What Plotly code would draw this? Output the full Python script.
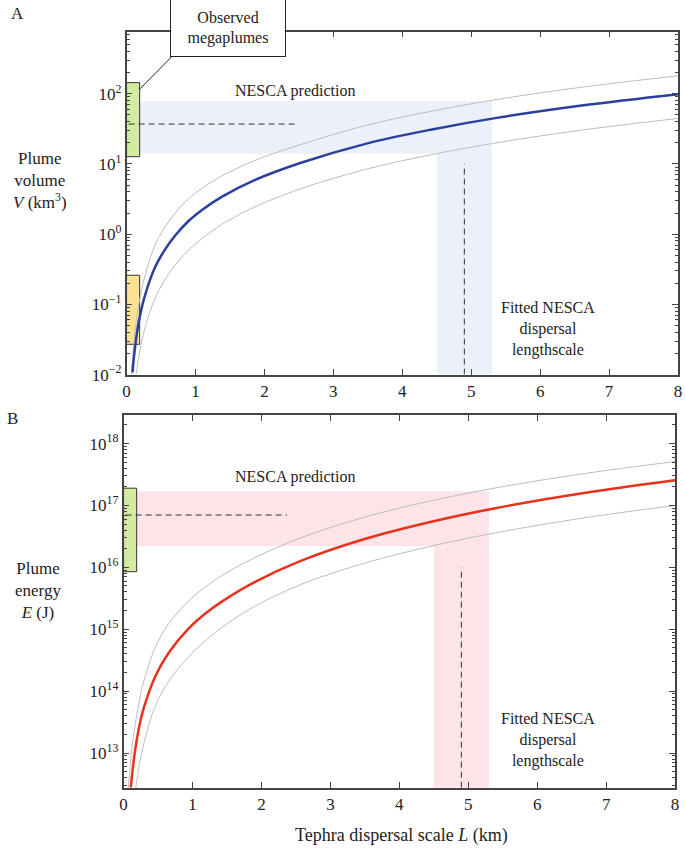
import plotly.graph_objects as go

# Panel A: plume volume (km^3) vs tephra dispersal scale L (km)
vol_L = [0.086, 0.125, 0.18, 0.27, 0.42, 0.55, 0.70, 0.90, 1.10, 1.38, 1.85, 2.52, 3.48, 4.43, 5.39, 6.63, 8.0]
vol_mid = [0.0107, 0.0254, 0.0586, 0.137, 0.348, 0.588, 0.942, 1.54, 2.23, 3.40, 5.83, 10.3, 19.5,
           31.0, 45.7, 68.5, 98.6]
vol_hi_L = [0.07, 0.12, 0.18, 0.27, 0.42, 0.55, 0.70, 0.90, 1.10, 1.38, 1.85, 2.52, 3.48, 4.43, 5.39, 6.63, 8.0]
vol_hi = [0.0102, 0.0383, 0.103, 0.262, 0.726, 1.23, 1.97, 3.21, 4.54, 6.71, 11.1, 18.8, 35.5,
          56.6, 83.4, 125, 180]
vol_lo_L = [0.14, 0.18, 0.27, 0.42, 0.55, 0.70, 0.90, 1.10, 1.38, 1.85, 2.52, 3.48, 4.43, 5.39, 6.63, 8.0]
vol_lo = [0.0102, 0.0187, 0.0475, 0.126, 0.218, 0.358, 0.592, 0.875, 1.37, 2.42, 4.41, 8.43, 13.6,
          20.2, 30.6, 44.5]

# Panel B: plume energy (J)
en_L = [0.105, 0.153, 0.225, 0.30, 0.463, 0.65, 0.942, 1.20, 1.42, 1.90, 2.57, 3.52, 4.48, 5.43, 6.68, 8.0]
en_mid = [2.75e12, 8.55e12, 2.61e13, 5.68e13, 1.76e14, 4.09e14, 1.02e15, 1.84e15, 2.77e15, 5.77e15,
          1.27e16, 2.92e16, 5.51e16, 9.2e16, 1.59e17, 2.55e17]
en_hi_L = [0.07, 0.12, 0.225, 0.30, 0.463, 0.65, 0.942, 1.20, 1.42, 1.90, 2.57, 3.52, 4.48, 5.43, 6.68, 8.0]
en_hi = [2.75e12, 1.18e13, 6.65e13, 1.54e14, 5.19e14, 1.21e15, 2.84e15, 4.95e15, 7.3e15, 1.43e16,
         2.99e16, 6.59e16, 1.2e17, 1.95e17, 3.27e17, 5.12e17]
en_lo_L = [0.177, 0.225, 0.30, 0.463, 0.65, 0.942, 1.20, 1.42, 1.90, 2.57, 3.52, 4.48, 5.43, 6.68, 8.0]
en_lo = [2.75e12, 6.07e12, 1.52e13, 5.87e13, 1.42e14, 3.58e14, 6.71e14, 1.06e15, 2.33e15, 5.26e15,
         1.19e16, 2.22e16, 3.67e16, 6.3e16, 1.0e17]

# observations / NESCA fit
L_fit, L_fit_lo, L_fit_hi = 4.9, 4.5, 5.3
obs_box_L = 0.19
vol_obs_mega = (12.7, 144)
vol_obs_small = (0.027, 0.26)
vol_pred = (14, 78)
vol_pred_mid = 37
en_obs_mega = (8.5e15, 1.9e17)
en_pred = (2.2e16, 1.7e17)
en_pred_mid = 7e16

x_ticks = [0, 1, 2, 3, 4, 5, 6, 7, 8]
vol_ticks = [-2, -1, 0, 1, 2]
en_ticks = [13, 14, 15, 16, 17, 18]

FONT = 'Liberation Serif'
INK = '#222222'
AX = '#444444'
BLUE = '#2b3f9e'
RED = '#e8331c'
GREY = '#bcbcbc'
BAND_B = '#ebf0fa'
BAND_R = '#fde4e8'
GREEN = '#d3eba0'
ORANGE = '#ffe193'
DASH = '6px,4px'

fig = go.Figure()

for xs, ys, col, w in [(vol_hi_L, vol_hi, GREY, 1), (vol_lo_L, vol_lo, GREY, 1), (vol_L, vol_mid, BLUE, 2.5)]:
    fig.add_scatter(x=xs, y=ys, mode='lines', line=dict(color=col, width=w, shape='spline'),
                    xaxis='x', yaxis='y', showlegend=False, hoverinfo='skip')
for xs, ys, col, w in [(en_hi_L, en_hi, GREY, 1), (en_lo_L, en_lo, GREY, 1), (en_L, en_mid, RED, 2.5)]:
    fig.add_scatter(x=xs, y=ys, mode='lines', line=dict(color=col, width=w, shape='spline'),
                    xaxis='x2', yaxis='y2', showlegend=False, hoverinfo='skip')

shapes = []


def panel_shapes(xr, yr, ymin, pred, pred_mid, obs, band, dash_x_top, dash_y_end):
    # L-shaped prediction band
    shapes.append(dict(type='rect', xref=xr, yref=yr, x0=obs_box_L, x1=L_fit_hi,
                       y0=pred[0], y1=pred[1], fillcolor=band, line_width=0, layer='below'))
    shapes.append(dict(type='rect', xref=xr, yref=yr, x0=L_fit_lo, x1=L_fit_hi,
                       y0=ymin, y1=pred[0], fillcolor=band, line_width=0, layer='below'))
    # observed megaplumes
    shapes.append(dict(type='rect', xref=xr, yref=yr, x0=0, x1=obs_box_L,
                       y0=obs[0], y1=obs[1], fillcolor=GREEN,
                       line=dict(color='#333333', width=1), layer='below'))
    # dashed lines
    shapes.append(dict(type='line', xref=xr, yref=yr, x0=0.03, x1=dash_y_end,
                       y0=pred_mid, y1=pred_mid, line=dict(color='#333333', width=1, dash=DASH)))
    shapes.append(dict(type='line', xref=xr, yref=yr, x0=L_fit, x1=L_fit,
                       y0=ymin, y1=dash_x_top, line=dict(color='#333333', width=1, dash=DASH)))


panel_shapes('x', 'y', 0.01, vol_pred, vol_pred_mid, vol_obs_mega, BAND_B, 10, 2.5)
panel_shapes('x2', 'y2', 10 ** 12.44, en_pred, en_pred_mid, en_obs_mega, BAND_R, 1e16, 2.37)
shapes.append(dict(type='rect', xref='x', yref='y', x0=0, x1=obs_box_L,
                   y0=vol_obs_small[0], y1=vol_obs_small[1], fillcolor=ORANGE,
                   line=dict(color='#333333', width=1), layer='below'))
# leader line from the "Observed megaplumes" box to the green bar
shapes.append(dict(type='line', xref='paper', yref='paper', x0=137.5 / 685, y0=1 - 90 / 855,
                   x1=170 / 685, y1=1 - 57 / 855, line=dict(color='#222222', width=1)))

axis_common = dict(showline=True, linecolor=AX, linewidth=1.6, mirror='ticks', ticks='inside',
                   tickcolor=AX, tickwidth=1.3, ticklen=6, showgrid=False, zeroline=False,
                   tickfont=dict(family=FONT, size=17, color=INK))


def sup(p):
    return '10<sup>' + (str(p) if p >= 0 else '\u2212' + str(-p)) + '</sup>'


def minor_ticks(lo, hi):
    vals = [k * 10.0 ** p for p in range(lo, hi + 1) for k in range(2, 10)]
    return dict(tickmode='array', tickvals=vals, ticks='inside', ticklen=3.5,
                tickcolor=AX, tickwidth=1, showgrid=False)


fig.update_layout(
    width=685, height=855, autosize=False,
    margin=dict(l=0, r=0, t=0, b=0),
    paper_bgcolor='white', plot_bgcolor='white',
    font=dict(family=FONT, size=16, color=INK),
    showlegend=False,
    shapes=shapes,
    xaxis=dict(domain=[124 / 685, 682 / 685], range=[0, 8], anchor='y',
               tickvals=x_ticks, **axis_common),
    yaxis=dict(domain=[1 - 379 / 855, 1 - 32 / 855], type='log', range=[-2, 2.885], anchor='x',
               tickvals=[10.0 ** p for p in vol_ticks], ticktext=[sup(p) for p in vol_ticks],
               minor=minor_ticks(-2, 2), **axis_common),
    xaxis2=dict(domain=[121 / 685, 679 / 685], range=[0, 8], anchor='y2',
                tickvals=x_ticks, **axis_common),
    yaxis2=dict(domain=[1 - 797 / 855, 1 - 420 / 855], type='log', range=[12.44, 18.46], anchor='x2',
                tickvals=[10.0 ** p for p in en_ticks], ticktext=[sup(p) for p in en_ticks],
                minor=minor_ticks(12, 18), **axis_common),
)


def note(x, y, text, xref='paper', yref='paper', size=16, **kw):
    return dict(xref=xref, yref=yref, x=x, y=y, text=text, showarrow=False,
                xanchor='center', yanchor='middle', font=dict(size=size), **kw)


# annotation positions on log axes are given in log10 units
ann = [
    note(14 / 685, 1 - 14 / 855, 'A', size=17),
    note(9 / 685, 1 - 423 / 855, 'B', size=17),
    note(36 / 685, 1 - 183 / 855, 'Plume<br>volume<br><i>V</i> (km<sup>3</sup>)', size=17),
    note(34 / 685, 1 - 597 / 855, 'Plume<br>energy<br><i>E</i> (J)', size=17),
    note(402 / 685, 1 - 845 / 855, 'Tephra dispersal scale <i>L</i> (km)', size=18),
    note(2.45, 2.045, 'NESCA prediction', 'x', 'y'),
    note(2.49, 17.46, 'NESCA prediction', 'x2', 'y2'),
    note(6.11, -1.354, 'Fitted NESCA<br>dispersal<br>lengthscale', 'x', 'y'),
    note(6.15, 13.21, 'Fitted NESCA<br>dispersal<br>lengthscale', 'x2', 'y2'),
    note(227 / 685, 1 - 28 / 855, 'Observed<br>megaplumes', bgcolor='white',
         bordercolor='#222222', borderwidth=1, borderpad=1, width=112, height=54),
]
fig.update_layout(annotations=ann)

fig.write_html('out.html', config={'displayModeBar': False},
               post_script="document.body.style.margin='0';")
